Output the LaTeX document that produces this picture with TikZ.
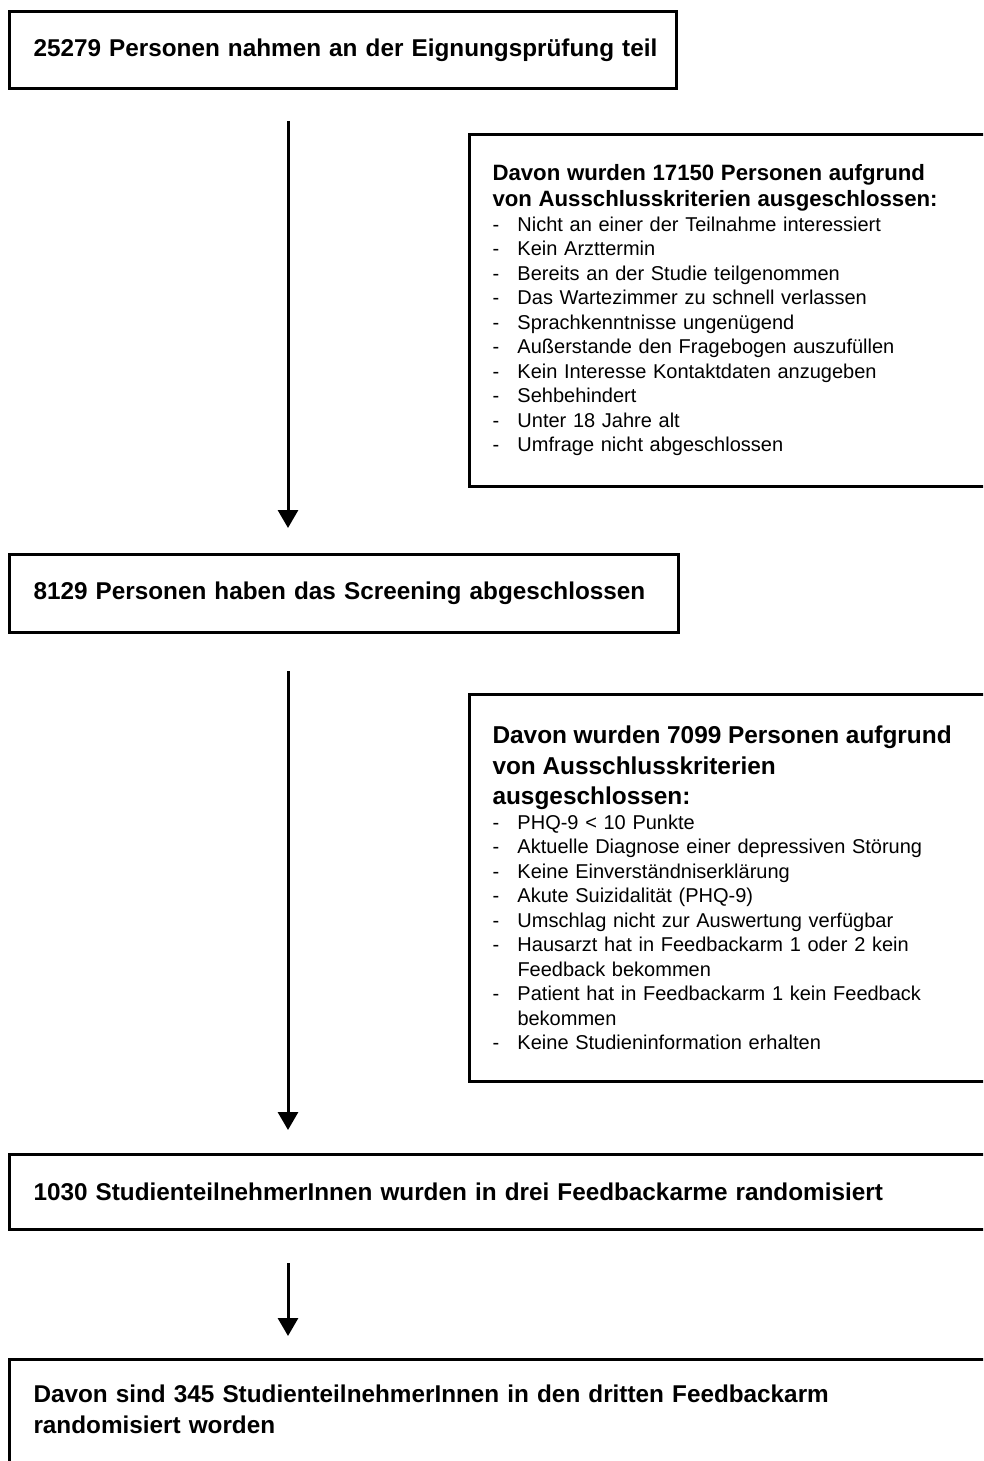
\documentclass[tikz,border=0pt]{standalone}
\usepackage{fontspec}
\setmainfont{Liberation Sans}
\usetikzlibrary{arrows.meta}

\newcommand{\crit}[1]{\makebox[25pt][l]{-}#1}
\newcommand{\critcont}{\hspace*{25pt}}

\begin{document}
\begin{tikzpicture}[x=1pt,y=-1pt,
  stage/.style={draw,line width=3pt,anchor=north west,align=left,inner xsep=24pt,inner ysep=0pt,
    font=\fontsize{24.3}{31}\selectfont\bfseries},
  exclude/.style={draw,line width=3pt,anchor=north west,align=left,text width=500pt,
    inner xsep=23pt,inner ysep=0pt,font=\fontsize{20}{24.5}\selectfont},
  flow/.style={line width=3pt,-{Triangle[length=18pt,width=20pt]}}]
  \useasboundingbox (0,0) rectangle (983,1461);
  \clip (0,0) rectangle (983,1461);
  \coordinate (axis) at (288,0);

  % main stages
  \node[stage,text width=619pt,minimum height=77pt] (teil) at (8,10)
    {\mbox{25279 Personen nahmen an der Eignungspr\"ufung teil}};
  \node[stage,text width=621pt,minimum height=78pt] (screen) at (8,553)
    {8129 Personen haben das Screening abgeschlossen};
  \node[stage,text width=952pt,minimum height=75pt] (rand) at (8,1153)
    {1030 StudienteilnehmerInnen wurden in drei Feedbackarme randomisiert};
  \node[stage,text width=952pt,inner ysep=25pt] (arm) at (8,1358)
    {Davon sind 345 StudienteilnehmerInnen in den dritten Feedbackarm\\
     randomisiert worden\rule[-60pt]{0pt}{0pt}};

  % exclusions
  \node[exclude,minimum height=352pt] (aus1) at (468,133)
    {{\fontsize{22.2}{26}\selectfont\bfseries Davon wurden 17150 Personen aufgrund\\
     von Ausschlusskriterien ausgeschlossen:\par}
     \crit{Nicht an einer der Teilnahme interessiert}\\
     \crit{Kein Arzttermin}\\
     \crit{Bereits an der Studie teilgenommen}\\
     \crit{Das Wartezimmer zu schnell verlassen}\\
     \crit{Sprachkenntnisse ungen\"ugend}\\
     \crit{Au\ss erstande den Fragebogen auszuf\"ullen}\\
     \crit{Kein Interesse Kontaktdaten anzugeben}\\
     \crit{Sehbehindert}\\
     \crit{Unter 18 Jahre alt}\\
     \crit{Umfrage nicht abgeschlossen}};
  \node[exclude,minimum height=387pt] (aus2) at (468,693)
    {{\fontsize{24.4}{30.5}\selectfont\bfseries Davon wurden 7099 Personen aufgrund\\
     von Ausschlusskriterien\\
     ausgeschlossen:\par}
     \crit{PHQ-9 < 10 Punkte}\\
     \crit{Aktuelle Diagnose einer depressiven St\"orung}\\
     \crit{Keine Einverst\"andniserkl\"arung}\\
     \crit{Akute Suizidalit\"at (PHQ-9)}\\
     \crit{Umschlag nicht zur Auswertung verf\"ugbar}\\
     \crit{Hausarzt hat in Feedbackarm 1 oder 2 kein}\\
     \critcont Feedback bekommen\\
     \crit{Patient hat in Feedbackarm 1 kein Feedback}\\
     \critcont bekommen\\
     \crit{Keine Studieninformation erhalten}};

  % arrows
  \draw[flow,shorten <=31pt,shorten >=25pt] (teil.south -| axis) -- (screen.north -| axis);
  \draw[flow,shorten <=37pt,shorten >=23pt] (screen.south -| axis) -- (rand.north -| axis);
  \draw[flow,shorten <=32pt,shorten >=22pt] (rand.south -| axis) -- (arm.north -| axis);
\end{tikzpicture}
\end{document}
